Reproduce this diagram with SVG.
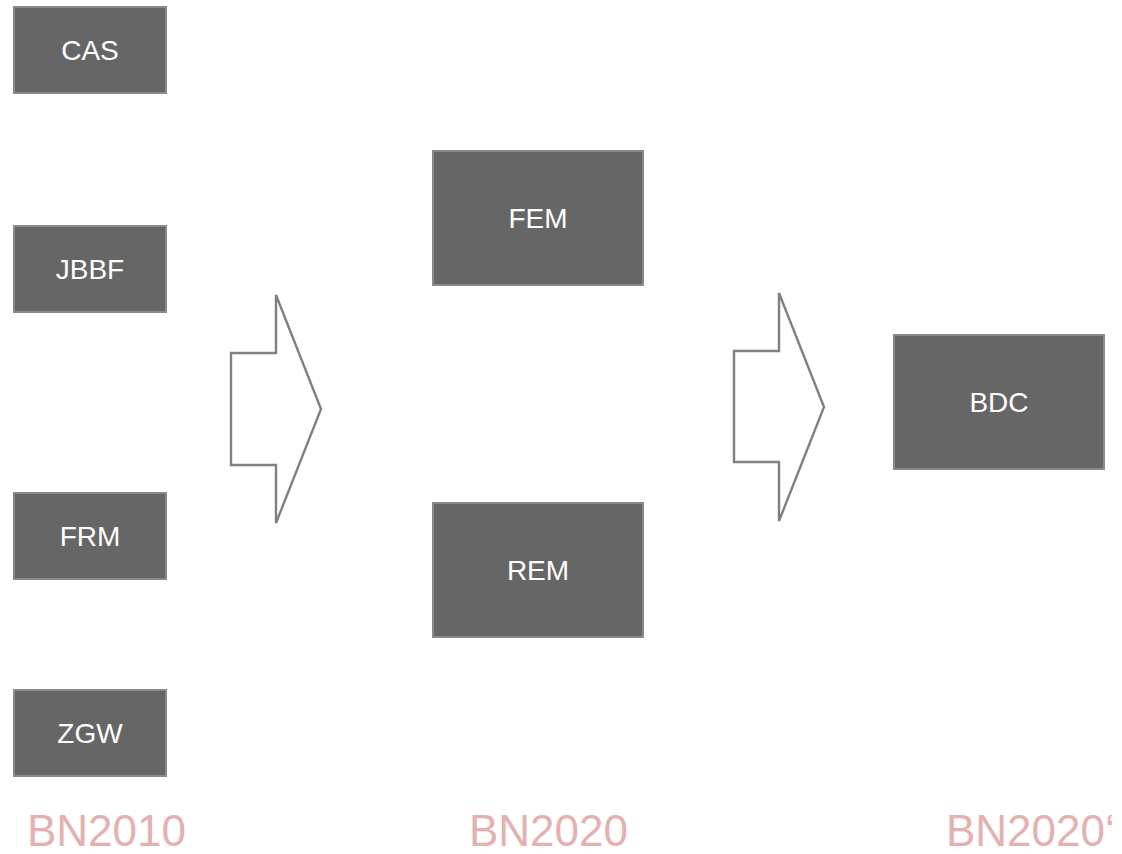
<svg xmlns="http://www.w3.org/2000/svg" width="1122" height="854" viewBox="0 0 1122 854">
<style>
.box{fill:#666666;stroke:#8a8a8a;stroke-width:2}
.lbl{font-family:"Liberation Sans",Arial,sans-serif;font-size:28px;fill:#ffffff;text-anchor:middle}
.era{font-family:"Liberation Sans",Arial,sans-serif;font-size:44px;fill:#e4b0b0}
.arrow{fill:#ffffff;stroke:#808080;stroke-width:2.4;stroke-linejoin:miter}
</style>
<rect width="1122" height="854" fill="#ffffff"/>
<g id="CAS"><rect class="box" x="14" y="7" width="152" height="86"/><text class="lbl" x="90" y="60">CAS</text></g>
<g id="JBBF"><rect class="box" x="14" y="226" width="152" height="86"/><text class="lbl" x="90" y="279">JBBF</text></g>
<g id="FRM"><rect class="box" x="14" y="493" width="152" height="86"/><text class="lbl" x="90" y="546">FRM</text></g>
<g id="ZGW"><rect class="box" x="14" y="690" width="152" height="86"/><text class="lbl" x="90" y="743">ZGW</text></g>
<g id="FEM"><rect class="box" x="433" y="151" width="210" height="134"/><text class="lbl" x="538" y="228">FEM</text></g>
<g id="REM"><rect class="box" x="433" y="503" width="210" height="134"/><text class="lbl" x="538" y="580">REM</text></g>
<g id="BDC"><rect class="box" x="894" y="335" width="210" height="134"/><text class="lbl" x="999" y="412">BDC</text></g>
<g id="connectors">
<polygon class="arrow" points="231,353 276,353 276,295 321,409 276,523 276,465 231,465"/>
<polygon class="arrow" points="734,351 779,351 779,293 824,407 779,521 779,462 734,462"/>
</g>
<g id="labels">
<text class="era" x="27" y="846">BN2010</text>
<text class="era" x="469" y="846">BN2020</text>
<text class="era" x="946" y="846">BN2020‘</text>
</g>
</svg>
